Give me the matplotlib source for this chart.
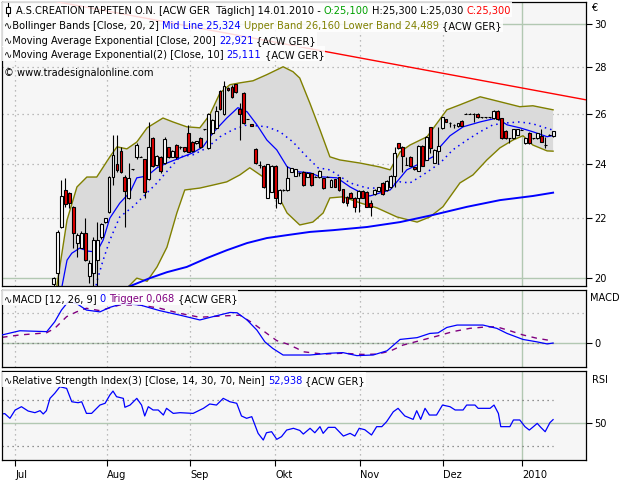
import matplotlib
matplotlib.use("Agg")
import matplotlib.pyplot as plt
from matplotlib.patches import Rectangle
from matplotlib.lines import Line2D
from matplotlib.ticker import FixedLocator, NullLocator
import numpy as np

plt.rcParams["font.family"] = ["DejaVu Sans"]
FS = 7.1
W, H = 640, 480

# ---------------- data (bar index, Jul 1 2009 = 0) ----------------
first_bar = 10
opens = [19.80, 20.16, 21.70, 23.02, 22.90, 22.41, 21.16, 21.00, 21.50, 20.07,
         20.16, 20.58, 21.36, 21.88, 22.24, 23.51, 23.99, 24.51, 23.49, 22.71,
         23.80, 24.25, 24.28, 24.18, 23.42, 25.00, 23.96, 24.25, 24.04, 24.64,
         24.28, 24.73, 24.64, 24.64, 25.20, 24.85, 24.80, 25.00, 25.37, 24.61,
         25.20, 25.43, 26.94, 25.99, 27.08, 27.15, 27.25, 26.19, 26.87, 25.78,
         25.57, 24.57, 23.96, 23.92, 22.74, 22.96, 23.90, 22.53, 23.02, 23.02,
         23.70, 23.54, 23.64, 23.70, 23.51, 23.64, 23.51, 23.49, 23.45, 23.51,
         23.14, 23.42, 23.49, 23.04, 22.77, 22.92, 22.74, 22.74, 23.00, 22.96,
         22.53, 22.87, 23.00, 23.29, 23.02, 23.12, 23.54, 24.80, 24.67, 23.96,
         24.28, 23.87, 23.74, 24.70, 24.15, 25.45, 24.04, 24.48, 25.41, 25.77,
         25.61, 25.54, 25.48, 25.71, 25.99, 25.99, 25.99, 25.99, 25.85, 25.85,
         25.85, 25.81, 26.13, 25.81, 25.31, 25.00, 25.00, 25.13, 25.34, 24.80,
         25.23, 25.00, 25.00, 25.09, 24.73, 25.13, 25.10]
highs = [20.05, 21.61, 23.39, 23.45, 22.96, 22.45, 21.50, 21.55, 22.00, 20.58,
         21.36, 21.88, 21.85, 22.02, 23.55, 25.13, 25.13, 24.67, 23.58, 24.02,
         23.82, 24.83, 24.30, 24.20, 25.67, 25.05, 24.35, 24.30, 25.04, 24.66,
         24.53, 24.76, 24.70, 24.66, 25.54, 24.90, 24.91, 25.03, 25.39, 26.03,
         25.78, 26.30, 27.00, 27.37, 27.12, 27.20, 27.28, 26.44, 26.90, 25.80,
         25.59, 24.60, 24.10, 23.96, 24.00, 23.95, 23.95, 23.05, 23.04, 23.90,
         23.85, 23.82, 23.70, 23.72, 23.68, 23.66, 23.53, 23.76, 23.47, 23.53,
         23.41, 23.44, 23.51, 23.06, 22.79, 22.94, 22.76, 23.02, 23.02, 22.98,
         22.65, 23.04, 23.14, 23.31, 23.39, 23.56, 24.67, 24.82, 24.69, 24.28,
         24.30, 23.89, 24.72, 24.72, 25.08, 25.47, 24.56, 25.45, 25.87, 25.79,
         25.65, 25.56, 25.63, 25.73, 26.01, 26.01, 26.01, 26.01, 25.87, 25.87,
         25.87, 26.15, 26.15, 25.83, 25.33, 25.02, 25.39, 25.39, 25.36, 25.02,
         25.25, 25.02, 25.22, 25.37, 25.06, 25.15, 25.30]
lows = [19.60, 19.60, 21.66, 22.41, 22.36, 21.00, 20.69, 20.98, 20.55, 19.83,
        19.70, 19.70, 21.30, 21.85, 22.20, 23.20, 23.70, 23.65, 21.70, 22.70,
        23.78, 24.20, 24.26, 22.74, 23.40, 23.88, 23.92, 23.65, 24.00, 24.22,
        24.26, 24.20, 24.58, 24.47, 24.45, 24.45, 24.78, 24.60, 25.35, 24.57,
        25.15, 25.40, 26.15, 25.95, 26.95, 26.65, 26.88, 24.93, 25.58, 25.76,
        25.48, 24.00, 23.84, 23.10, 22.72, 22.94, 22.36, 22.50, 23.00, 22.98,
        23.68, 23.52, 23.55, 23.18, 23.49, 23.18, 23.49, 23.47, 23.06, 23.49,
        23.12, 23.12, 23.00, 22.56, 22.45, 22.72, 22.24, 22.24, 22.72, 22.39,
        22.08, 22.85, 22.98, 22.85, 23.00, 23.10, 23.12, 24.59, 23.70, 23.94,
        23.90, 23.78, 23.72, 23.90, 24.13, 24.41, 24.02, 24.00, 25.39, 25.65,
        25.45, 25.40, 25.46, 25.48, 25.97, 25.97, 25.67, 25.83, 25.83, 25.83,
        25.83, 25.79, 25.75, 24.98, 24.98, 24.80, 24.98, 25.11, 25.32, 24.78,
        24.78, 24.98, 24.98, 24.84, 24.61, 25.11, 25.03]
closes = [20.00, 21.53, 22.79, 22.51, 22.55, 21.50, 21.42, 21.50, 20.58, 20.49,
          21.25, 21.25, 21.82, 22.00, 23.51, 24.34, 23.77, 23.70, 23.00, 23.45,
          23.80, 24.73, 24.28, 22.96, 24.64, 23.92, 24.31, 23.74, 24.97, 24.25,
          24.51, 24.25, 24.64, 24.49, 24.47, 24.49, 24.89, 24.67, 25.37, 25.99,
          25.74, 26.13, 26.19, 27.18, 26.98, 26.70, 26.90, 25.99, 25.61, 25.78,
          25.50, 24.02, 23.96, 23.12, 23.98, 23.92, 22.74, 23.02, 23.02, 23.45,
          23.83, 23.80, 23.64, 23.20, 23.66, 23.20, 23.51, 23.74, 23.08, 23.51,
          23.39, 23.14, 23.02, 22.58, 22.53, 22.74, 22.39, 23.00, 22.74, 22.41,
          22.39, 23.02, 23.12, 22.87, 23.37, 23.54, 24.41, 24.61, 24.31, 23.96,
          23.92, 23.80, 24.70, 23.92, 25.06, 24.61, 24.54, 24.70, 25.85, 25.67,
          25.61, 25.54, 25.61, 25.50, 25.99, 25.99, 25.99, 25.85, 25.85, 25.85,
          25.85, 26.13, 25.77, 25.00, 25.00, 25.00, 25.37, 25.37, 25.34, 25.00,
          24.80, 25.00, 25.20, 24.86, 24.73, 25.13, 25.30]

bb_upper_x = [10, 10.8, 13.4, 15.9, 18.4, 20.9, 24.2, 26.0, 28.5, 31.0, 33.6, 37.6,
              40.1, 43.6, 46.9, 49.4, 52.0, 54.5, 57.0, 60.3, 63.8, 67.9, 70.4, 72.1,
              74.7, 77.2, 79.7, 82.2, 87.3, 92.3, 94.9, 97.4, 99.9, 104.2, 109.2,
              112.5, 117.6, 122.6, 127.6, 130.9, 136]
bb_upper = [19.40, 19.72, 21.94, 23.13, 23.50, 23.50, 24.27, 24.66, 24.58, 24.85, 25.42,
            25.82, 25.66, 25.46, 25.42, 25.95, 26.88, 27.23, 27.31, 27.40, 27.67, 28.02,
            27.80, 27.52, 26.42, 25.34, 24.27, 24.15, 24.03, 23.88, 23.77, 24.46, 24.73,
            25.06, 26.16, 26.37, 26.71, 26.50, 26.29, 26.33, 26.16]
bb_lower_x = [10, 20, 27, 28.8, 31.0, 33.6, 36.1, 38.6, 41.1, 43.1, 46.9, 50.2, 53.7,
              57.0, 59.5, 62.8, 66.3, 68.9, 72.1, 75.4, 78.0, 79.7, 83.0, 87.3, 91.6,
              96.6, 101.7, 104.9, 108.2, 112.5, 115.8, 119.3, 122.6, 125.9, 128.4,
              130.9, 134.5, 136]
bb_lower = [17.00, 17.80, 19.40, 19.72, 20.00, 19.90, 20.36, 21.01, 22.19, 23.02, 23.09,
            23.20, 23.32, 23.58, 23.85, 23.51, 22.91, 22.19, 21.77, 21.87, 22.19, 22.73,
            22.77, 22.55, 22.37, 22.05, 21.87, 22.05, 22.41, 23.28, 23.58, 24.15, 24.62,
            24.93, 25.10, 24.73, 24.50, 24.49]
bb_mid_x = [20.5, 20.9, 22.5, 24.2, 26.7, 30.0, 32.5, 36.1, 39.4, 41.9, 45.2, 48.7,
            52.0, 55.2, 58.8, 63.8, 67.1, 70.4, 73.9, 76.7, 79.7, 84.8, 89.1, 92.3,
            94.9, 97.4, 99.9, 103.2, 107.5, 110.7, 114.3, 117.6, 120.8, 124.4, 127.6,
            130.9, 136]
bb_mid = [19.60, 19.88, 20.58, 21.25, 22.05, 22.41, 22.76, 23.28, 23.85, 24.27, 24.35,
          24.62, 25.06, 25.34, 25.54, 25.46, 25.26, 24.85, 24.27, 23.85, 23.77, 23.28,
          23.09, 23.09, 23.20, 23.32, 23.28, 23.58, 24.03, 24.54, 24.93, 25.26, 25.54,
          25.62, 25.66, 25.58, 25.324]
ema10_x = [11.5, 12.1, 13.4, 14.6, 16.6, 18.7, 20.9, 22.5, 24.2, 26.7, 29.3, 31.0,
           33.6, 36.1, 38.6, 41.9, 45.2, 47.7, 50.2, 53.7, 56.5, 58.8, 61.3, 63.8,
           66.3, 68.9, 71.4, 74.7, 77.2, 81.5, 84.8, 87.3, 89.8, 92.3, 94.9, 96.6,
           99.1, 101.7, 105.7, 107.5, 110.0, 113.3, 117.6, 121.8, 124.4, 127.6,
           130.9, 134.5, 136]
ema10 = [19.50, 19.72, 20.58, 20.81, 20.98, 20.88, 20.85, 21.25, 22.01, 22.54, 22.94,
         23.47, 23.54, 23.85, 24.03, 24.23, 24.43, 24.66, 25.22, 25.82, 26.25, 26.08,
         25.54, 24.93, 24.54, 23.89, 23.70, 23.66, 23.51, 23.47, 23.13, 22.94, 22.80,
         22.91, 23.02, 23.32, 23.77, 23.96, 24.27, 24.66, 25.10, 25.46, 25.66, 25.82,
         25.54, 25.42, 25.26, 25.06, 25.111]
ema200_x = [28.8, 34.3, 38.6, 43.6, 48.7, 53.7, 58.8, 63.8, 68.9, 74.7, 80.5, 89.1,
            97.4, 105.7, 114.3, 122.6, 130.9, 136]
ema200 = [19.72, 20.00, 20.19, 20.36, 20.65, 20.91, 21.15, 21.32, 21.42, 21.53, 21.59,
          21.70, 21.87, 22.12, 22.41, 22.65, 22.80, 22.921]
trend_x = [10.4, 144.3]
trend_y = [31.10, 26.58]

macd_x = [-3, 1.5, 8.3, 10.3, 12.0, 13.7, 15.8, 18.3, 21.7, 24.2, 27.5, 31.8, 36.8,
          41.9, 46.9, 50.2, 54.5, 56.3, 58.8, 61.3, 63.3, 65.3, 67.9, 72.1, 74.7,
          79.7, 83.0, 86.5, 90.6, 94.1, 97.4, 101.7, 104.9, 107.0, 109.2, 111.8,
          118.3, 121.8, 124.4, 128.4, 131.9, 134.5, 136]
macd = [0.27, 0.41, 0.38, 0.71, 1.10, 1.38, 1.32, 1.10, 1.04, 1.19, 1.32, 1.27, 1.08,
        0.93, 0.77, 0.88, 1.02, 1.01, 0.77, 0.43, 0.04, -0.18, -0.40, -0.40, -0.40,
        -0.34, -0.32, -0.42, -0.40, -0.26, 0.12, 0.18, 0.32, 0.34, 0.52, 0.60, 0.60,
        0.49, 0.32, 0.12, 0.04, -0.03, 0.0]
trig_x = [-3, 1.5, 8.2, 10.3, 13.3, 15.8, 18.3, 21.7, 26.7, 31.8, 36.8, 41.9, 46.9,
          52.0, 57.0, 60.3, 63.8, 66.3, 68.9, 71.4, 72.9, 78.0, 83.0, 88.0, 91.6,
          94.9, 98.1, 102.4, 106.7, 110.7, 115.0, 119.3, 121.8, 125.1, 128.4, 131.9, 136]
trig = [0.19, 0.27, 0.34, 0.49, 0.88, 1.04, 1.16, 1.08, 1.27, 1.27, 1.16, 0.99, 0.86,
        0.90, 0.93, 0.66, 0.32, 0.08, -0.03, -0.18, -0.29, -0.37, -0.34, -0.38, -0.37,
        -0.27, -0.07, 0.08, 0.23, 0.38, 0.49, 0.54, 0.54, 0.41, 0.27, 0.16, 0.068]

rsi_x = [-3.0, -2.3, -1.0, 0.3, 1.9, 3.6, 5.3, 6.6, 7.4, 8.2, 9.1, 10.3, 11.6, 13.3,
         14.6, 16.2, 17.1, 18.3, 19.6, 21.7, 23.0, 24.2, 25.0, 25.9, 27.6, 28.0, 29.3,
         31.0, 32.2, 33.0, 33.9, 35.1, 36.4, 37.7, 38.5, 40.2, 41.9, 45.2, 47.8, 49.4,
         51.1, 52.8, 54.5, 56.2, 57.4, 58.7, 60.0, 60.8, 61.6, 62.9, 63.7, 65.0, 66.3,
         67.5, 68.8, 70.5, 72.1, 73.0, 74.7, 75.9, 77.2, 78.0, 79.3, 81.0, 83.1, 84.8,
         86.0, 87.1, 88.5, 90.2, 91.5, 92.8, 94.0, 95.7, 96.9, 98.6, 100.7, 101.6,
         102.6, 103.7, 104.8, 106.6, 108.1, 110.0, 111.3, 113.3, 114.2, 116.3, 117.1,
         120.1, 121.1, 122.2, 122.8, 125.1, 126.0, 127.6, 128.9, 130.0, 130.9, 132.0,
         132.9, 134.0, 135.2, 136.0]
rsi = [57.7, 58.0, 54.0, 61.0, 63.9, 60.2, 58.8, 60.5, 57.7, 60.5, 71.0, 75.3, 80.9,
       79.5, 68.1, 67.3, 68.1, 58.2, 58.2, 65.3, 66.8, 73.8, 77.2, 72.4, 71.0, 63.4,
       65.3, 71.0, 65.3, 56.0, 63.9, 61.1, 61.1, 56.8, 62.5, 58.2, 58.8, 58.2, 62.5,
       66.2, 65.3, 71.0, 68.1, 66.8, 56.0, 54.0, 55.4, 48.3, 41.2, 35.5, 41.7, 42.6,
       36.1, 38.4, 44.0, 45.5, 43.7, 40.6, 45.5, 41.7, 46.9, 41.2, 46.3, 46.3, 38.9,
       41.2, 38.9, 45.5, 44.3, 39.8, 46.9, 46.9, 51.1, 59.6, 62.5, 56.0, 53.1, 60.5,
       53.1, 62.5, 56.8, 56.8, 65.3, 63.9, 61.1, 61.1, 65.3, 65.3, 62.5, 62.5, 65.3,
       58.2, 46.9, 46.9, 52.6, 52.6, 46.9, 44.0, 46.5, 49.7, 46.3, 42.6, 50.3, 52.9]

month_pos = [0.3, 23.5, 44.4, 65.9, 87.3, 108.3, 128.2]
month_lbl = ["Jul", "Aug", "Sep", "Okt", "Nov", "Dez", "2010"]
price_ticks = [20, 22, 24, 26, 28, 30]

# ---------------- figure ----------------
fig = plt.figure(figsize=(6.4, 4.8), dpi=100)
fig.patch.set_facecolor("white")


def panel(top, bottom):
    return fig.add_axes([2 / W, 1 - bottom / H, 584 / W, (bottom - top) / H])


ax = panel(2, 286)
ax2 = panel(290, 367)
ax3 = panel(371, 460)

BG = "#f6f6f6"
GRID = "#a8a8a8"
GREEN = "#b2c8b2"
DOT = (0, (1, 3))

for a in (ax, ax2, ax3):
    a.set_facecolor(BG)
    a.set_xlim(-3.0, 144.3)
    for s in a.spines.values():
        s.set_linewidth(0.9)
        s.set_color("black")
    for m, lbl in zip(month_pos, month_lbl):
        if lbl == "2010":
            a.axvline(m, color=GREEN, lw=1.0, zorder=0.5)
        else:
            a.axvline(m, color=GRID, lw=0.9, ls=DOT, zorder=0.5)
    a.yaxis.tick_right()
    a.tick_params(axis="y", direction="out", length=4, width=0.8,
                  labelsize=FS, pad=2)
    a.set_xticks([])

# price panel
ax.set_yscale("log")
ax.set_ylim(19.75, 31.07)
ax.yaxis.set_major_locator(FixedLocator(price_ticks))
ax.yaxis.set_minor_locator(NullLocator())
ax.set_yticklabels([str(p) for p in price_ticks])
for p in price_ticks:
    if p in (20, 30):
        ax.axhline(p, color=GREEN, lw=1.0, zorder=0.5)
    else:
        ax.axhline(p, color=GRID, lw=0.9, ls=DOT, zorder=0.5)

ax.fill(np.r_[bb_upper_x, bb_lower_x[::-1]], np.r_[bb_upper, bb_lower[::-1]],
        color="#dadada", lw=0, zorder=1)
ax.plot(bb_upper_x, bb_upper, color="#808000", lw=1.0, zorder=2)
ax.plot(bb_lower_x, bb_lower, color="#808000", lw=1.0, zorder=2)
ax.plot(bb_mid_x, bb_mid, color="blue", lw=1.1, ls=(0, (1, 2.6)), zorder=2)
ax.plot(ema200_x, ema200, color="blue", lw=1.4, zorder=2)
ax.plot(ema10_x, ema10, color="blue", lw=0.9, zorder=2)

bars = np.arange(first_bar, first_bar + len(opens))
o = np.array(opens)
c = np.array(closes)
ax.vlines(bars, lows, highs, color="black", lw=0.8, zorder=3)
ax.bar(bars, np.abs(c - o), bottom=np.minimum(o, c), width=0.72,
       color=np.where(c >= o, "white", "#e00000"), edgecolor="black",
       linewidth=0.8, zorder=4)
ax.plot(trend_x, trend_y, color="red", lw=1.0, zorder=3.5)

# MACD panel
ax2.set_ylim(-0.8, 1.77)
ax2.set_yticks([0])
ax2.set_yticklabels(["0"])
ax2.axhline(1.0, color=GRID, lw=0.9, ls=DOT, zorder=0.5)
ax2.axhline(0, color=GREEN, lw=1.0, zorder=0.5)
ax2.plot([-3, 136], [0, 0], color="#707070", lw=0.9, ls=DOT, zorder=0.6)
ax2.plot(trig_x, trig, color="#800080", lw=1.0, ls=(0, (4, 4)), zorder=2)
ax2.plot(macd_x, macd, color="blue", lw=0.9, zorder=3)

# RSI panel
ax3.set_ylim(18.5, 94.3)
ax3.set_yticks([50])
ax3.set_yticklabels(["50"])
ax3.axhline(50, color=GREEN, lw=1.0, zorder=0.5)
ax3.plot([-3, 136], [70, 70], color="#707070", lw=0.9, ls=DOT, zorder=0.6)
ax3.plot([-3, 136], [30, 30], color="#707070", lw=0.9, ls=DOT, zorder=0.6)
ax3.plot(rsi_x, rsi, color="blue", lw=0.9, zorder=2)
ax3.set_xticks(month_pos)
ax3.set_xticklabels(month_lbl)
ax3.tick_params(axis="x", direction="out", length=4, width=0.8,
                labelsize=FS, pad=3)
for lbl in ax3.get_xticklabels():
    lbl.set_ha("left")

# ---------------- header texts ----------------
renderer = fig.canvas.get_renderer()


def text_w(s):
    t = fig.text(0, 0, s, fontsize=FS)
    w = t.get_window_extent(renderer).width
    t.remove()
    return w


BAR_W = text_w("|")


def header(base, parts, x0, box=True):
    prefix = ""
    for s, col in parts:
        lead = len(s) - len(s.lstrip(" "))
        prefix += s[:lead]
        off = text_w(prefix + "|") - BAR_W if prefix else 0
        fig.text((x0 + off) / W, 1 - base / H, s.strip(" "), color=col,
                 fontsize=FS, ha="left", va="baseline", zorder=7)
        prefix += s[lead:]
    end = x0 + text_w(prefix.rstrip() + "|") - BAR_W
    if box:
        fig.add_artist(Rectangle((2 / W, 1 - (base + 3) / H), (end - 1) / W, 15 / H,
                                 transform=fig.transFigure, fc="white", ec="none",
                                 alpha=0.85, zorder=6))


K = "black"
BLUE = "#0000ff"
OLIVE = "#808000"
header(14, [("A.S.CREATION TAPETEN O.N. [ACW GER  Täglich] 14.01.2010 - ", K),
            ("O:25,100", "#00a000"), (" H:25,300 L:25,030 ", K),
            ("C:25,300", "red")], 16)
header(29, [("∿Bollinger Bands [Close, 20, 2] ", K), ("Mid Line 25,324", BLUE),
            (" Upper Band 26,160 Lower Band 24,489", OLIVE), (" {ACW GER}", K)], 4)
header(44, [("∿Moving Average Exponential [Close, 200] ", K), ("22,921", BLUE),
            (" {ACW GER}", K)], 4)
header(58, [("∿Moving Average Exponential(2) [Close, 10] ", K), ("25,111", BLUE),
            (" {ACW GER}", K)], 4)
header(76, [("© www.tradesignalonline.com", K)], 4, box=False)
header(302, [("∿MACD [12, 26, 9] ", K), ("0", BLUE), (" Trigger 0,068", "#800080"),
             (" {ACW GER}", K)], 4)
header(384, [("∿Relative Strength Index(3) [Close, 14, 30, 70, Nein] ", K),
             ("52,938", BLUE), (" {ACW GER}", K)], 4)

# candle icon in front of the title
fig.add_artist(Line2D([8 / W, 8 / W], [1 - 3 / H, 1 - 16 / H], transform=fig.transFigure,
                      color="black", lw=0.8, zorder=8))
fig.add_artist(Rectangle((6 / W, 1 - 13 / H), 4 / W, 6 / H, transform=fig.transFigure,
                         fc="white", ec="black", lw=0.8, zorder=9))

fig.text(591 / W, 1 - 8 / H, "€", fontsize=FS, ha="left", va="center")
fig.text(590 / W, 1 - 298 / H, "MACD", fontsize=FS, ha="left", va="center")
fig.text(592 / W, 1 - 380 / H, "RSI", fontsize=FS, ha="left", va="center")

fig.savefig("out.png", dpi=100)
